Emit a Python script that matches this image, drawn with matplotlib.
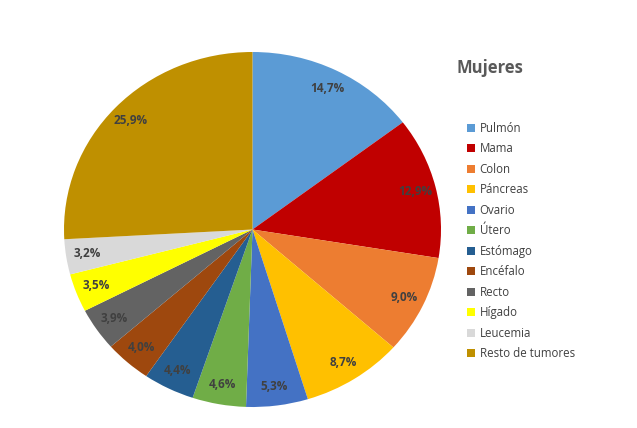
import matplotlib.pyplot as plt
from matplotlib.patches import Patch

# datos
tumores = ["Pulmón", "Mama", "Colon", "Páncreas", "Ovario", "Útero", "Estómago",
           "Encéfalo", "Recto", "Hígado", "Leucemia", "Resto de tumores"]
porcentajes = [14.7, 12.9, 9.0, 8.7, 5.3, 4.6, 4.4, 4.0, 3.9, 3.5, 3.2, 25.9]
colores = ["#5B9BD5", "#C00000", "#ED7D31", "#FFC000", "#4472C4", "#70AD47",
           "#255E91", "#9E480E", "#636363", "#FFFF00", "#D9D9D9", "#BF9000"]

plt.rcParams['font.family'] = ['Open Sans', 'DejaVu Sans']

fig = plt.figure(figsize=(6.37, 4.28), dpi=100)
ax = fig.add_axes([64/637, 21/428, 377/637, 355/428])

wedges, texts, autotexts = ax.pie(
    porcentajes, colors=colores, startangle=90, counterclock=False,
    autopct=lambda p: ("%.1f%%" % p).replace(".", ","), pctdistance=0.89,
    wedgeprops=dict(linewidth=0), radius=1)
for t in autotexts:
    t.set_color("#404040")
    t.set_fontsize(8.5)
    t.set_fontweight("bold")

ax.set_aspect("auto")
ax.set_xlim(-1, 1)
ax.set_ylim(-1, 1)
ax.axis("off")

fig.text(457/637, 1 - 68/428, "Mujeres", fontsize=12, fontweight="bold",
         color="#595959", va="center", ha="left")

handles = [Patch(facecolor=c, edgecolor="none") for c in colores]
fig.legend(handles, tumores, loc="upper left", bbox_to_anchor=(467/637, 1 - 122/428),
           frameon=False, fontsize=8.3, handlelength=0.7, handleheight=0.7,
           handletextpad=0.4, labelspacing=0.65, labelcolor="#404040",
           borderaxespad=0, borderpad=0)

fig.savefig("out.png", dpi=100)
